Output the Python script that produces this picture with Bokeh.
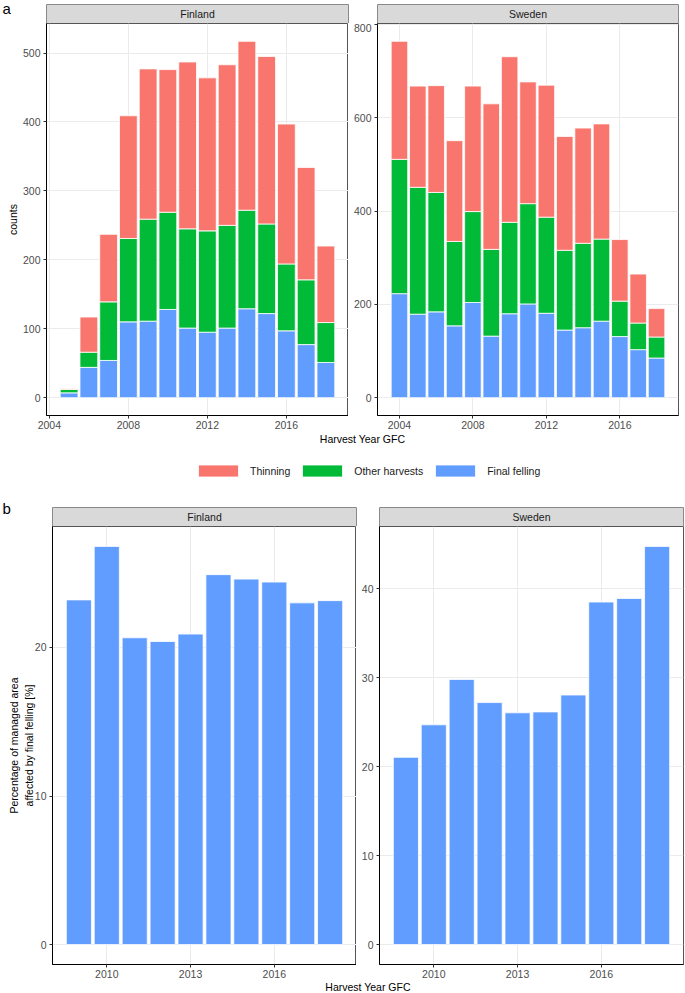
from bokeh.plotting import figure
from bokeh.layouts import column, row
from bokeh.models import ColumnDataSource, Range1d, FixedTicker, Legend, LegendItem
from bokeh.core.properties import value
from bokeh.embed import file_html
from bokeh.resources import INLINE

# ---------------- data ----------------
years_fi = [2005, 2006, 2007, 2008, 2009, 2010, 2011, 2012, 2013, 2014, 2015, 2016, 2017, 2018]
final_fi = [7, 44, 54, 110, 111, 128, 101, 95, 101, 129, 122, 97, 77, 51]
other_fi = [5, 22, 85, 121, 148, 141, 144, 147, 149, 143, 130, 97, 94, 58]
thin_fi = [1, 51, 98, 178, 218, 207, 242, 222, 233, 245, 243, 203, 163, 111]

years_se = [2004, 2005, 2006, 2007, 2008, 2009, 2010, 2011, 2012, 2013, 2014, 2015, 2016, 2017, 2018]
final_se = [223, 179, 184, 154, 204, 132, 180, 201, 181, 145, 150, 164, 131, 103, 85]
other_se = [288, 272, 256, 181, 195, 186, 196, 215, 206, 171, 181, 176, 76, 57, 45]
thin_se = [253, 217, 229, 216, 269, 312, 355, 261, 283, 244, 247, 247, 132, 105, 61]

years_b = [2009, 2010, 2011, 2012, 2013, 2014, 2015, 2016, 2017, 2018]
pct_fi = [23.2, 26.8, 20.65, 20.4, 20.9, 24.9, 24.6, 24.4, 23.0, 23.15]
pct_se = [21.05, 24.7, 29.8, 27.2, 26.05, 26.15, 28.05, 38.5, 38.9, 44.75]

categories = ["Thinning", "Other harvests", "Final felling"]
ticks_x_a = [2004, 2008, 2012, 2016]
ticks_x_b = [2010, 2013, 2016]
ticks_y_fi_a = [0, 100, 200, 300, 400, 500]
ticks_y_se_a = [0, 200, 400, 600, 800]
ticks_y_fi_b = [0, 10, 20]
ticks_y_se_b = [0, 10, 20, 30, 40]

# ---------------- style ----------------
FONT = "Liberation Sans"
C_THIN, C_OTHER, C_FINAL = "#F8766D", "#00BA38", "#619CFF"
COLORS = {"Thinning": C_THIN, "Other harvests": C_OTHER, "Final felling": C_FINAL}
FS = "10.5px"

# ---------------- layout constants (page px) ----------------
PX0 = 0
PW = 685
A_FI_L, A_FI_W, A_FI_R = 46, 302, 0
A_SE_L, A_SE_W, A_SE_R = 29, 301, 7
B_FI_L, B_FI_W, B_FI_R = 52, 304, 0
B_SE_L, B_SE_W, B_SE_R = 23, 304, 2
TOP_H = 23
A_FRAME_H, A_BOT = 392, 18
MID_H = 93
B_FRAME_H, B_BOT = 438, 17
BOT_H = 12

y_top0 = 0
y_a0 = y_top0 + TOP_H
y_mid0 = y_a0 + A_FRAME_H + A_BOT
y_b0 = y_mid0 + MID_H
y_bot0 = y_b0 + B_FRAME_H + B_BOT

fa_x0 = PX0 + A_FI_L
fa_x1 = fa_x0 + A_FI_W
fs_x0 = PX0 + A_FI_L + A_FI_W + A_FI_R + A_SE_L
fs_x1 = fs_x0 + A_SE_W
fb_x0 = PX0 + B_FI_L
fb_x1 = fb_x0 + B_FI_W
fsb_x0 = PX0 + B_FI_L + B_FI_W + B_FI_R + B_SE_L
fsb_x1 = fsb_x0 + B_SE_W


def x_range_for(years):
    lo, hi = min(years) - 0.45, max(years) + 0.45
    pad = 0.05 * (hi - lo)
    return Range1d(lo - pad, hi + pad)


def y_range_for(top):
    return Range1d(-0.05 * top, 1.05 * top)


def panel(width, height, mbl, mbr, mbb, xr, yr, xticks, yticks, ylabel=None, label_standoff=3):
    p = figure(width=width, height=height, x_range=xr, y_range=yr,
               min_border_left=mbl, min_border_right=mbr, min_border_top=0,
               min_border_bottom=mbb, toolbar_location=None, output_backend="svg")
    p.outline_line_color = "#555555"
    p.outline_line_width = 1
    p.background_fill_color = "white"
    p.border_fill_color = "white"
    p.xaxis.ticker = FixedTicker(ticks=xticks)
    p.yaxis.ticker = FixedTicker(ticks=yticks)
    for ax in (p.xaxis, p.yaxis):
        ax.axis_line_color = "black"
        ax.axis_line_width = 1
        ax.major_tick_line_color = "#333333"
        ax.major_tick_out = 3
        ax.major_tick_in = 0
        ax.minor_tick_line_color = None
        ax.major_label_text_font = FONT
        ax.major_label_text_font_size = FS
        ax.major_label_text_color = "#4D4D4D"
        ax.major_label_standoff = 2
    p.yaxis.major_label_standoff = 3
    p.grid.grid_line_color = "#EBEBEB"
    p.grid.grid_line_width = 1
    if ylabel:
        p.yaxis.axis_label = ylabel
        p.yaxis.axis_label_text_font = FONT
        p.yaxis.axis_label_text_font_size = FS
        p.yaxis.axis_label_text_font_style = "normal"
        p.yaxis.axis_label_text_color = "black"
        p.yaxis.axis_label_standoff = label_standoff
    return p


def stacked(p, years, final, other, thin):
    src = ColumnDataSource(dict(year=years, final=final, other=other, thin=thin))
    return p.vbar_stack(["final", "other", "thin"], x="year", width=0.9, source=src,
                        fill_color=[C_FINAL, C_OTHER, C_THIN], line_color="white", line_width=0.8)


# ---------------- panel a ----------------
tot_fi = [a + b + c for a, b, c in zip(final_fi, other_fi, thin_fi)]
tot_se = [a + b + c for a, b, c in zip(final_se, other_se, thin_se)]

fa = panel(A_FI_L + A_FI_W + A_FI_R, A_FRAME_H + A_BOT, A_FI_L, A_FI_R, A_BOT,
           x_range_for(years_fi), y_range_for(max(tot_fi)), ticks_x_a, ticks_y_fi_a, "counts", 1)
stacked(fa, years_fi, final_fi, other_fi, thin_fi)

fs = panel(A_SE_L + A_SE_W + A_SE_R, A_FRAME_H + A_BOT, A_SE_L, A_SE_R, A_BOT,
           x_range_for(years_se), y_range_for(max(tot_se)), ticks_x_a, ticks_y_se_a)
stacked(fs, years_se, final_se, other_se, thin_se)

# ---------------- panel b ----------------
fb = panel(B_FI_L + B_FI_W + B_FI_R, B_FRAME_H + B_BOT, B_FI_L, B_FI_R, B_BOT,
           x_range_for(years_b), y_range_for(max(pct_fi)), ticks_x_b, ticks_y_fi_b,
           "Percentage of managed area\naffected by final felling [%]", -3)
fb.vbar(x="year", top="pct", width=0.9, source=ColumnDataSource(dict(year=years_b, pct=pct_fi)),
        fill_color=C_FINAL, line_color="white", line_width=0.8)

fsb = panel(B_SE_L + B_SE_W + B_SE_R, B_FRAME_H + B_BOT, B_SE_L, B_SE_R, B_BOT,
            x_range_for(years_b), y_range_for(max(pct_se)), ticks_x_b, ticks_y_se_b)
fsb.vbar(x="year", top="pct", width=0.9, source=ColumnDataSource(dict(year=years_b, pct=pct_se)),
         fill_color=C_FINAL, line_color="white", line_width=0.8)


# ---------------- decoration strips (page-pixel coordinates) ----------------
def deco(height, y0):
    d = figure(width=PW, height=height, x_range=Range1d(PX0, PX0 + PW),
               y_range=Range1d(y0 + height, y0), x_axis_location=None, y_axis_location=None,
               min_border=0, toolbar_location=None, output_backend="svg")
    d.grid.visible = False
    d.outline_line_color = None
    d.background_fill_color = "white"
    d.border_fill_color = "white"
    return d


def strips(d, lefts, rights, top, bottom, labels):
    d.quad(left=lefts, right=rights, top=[top] * len(lefts), bottom=[bottom] * len(lefts),
           fill_color="#D9D9D9", line_color="#8A8A8A", line_width=1)
    d.text(x=[(l + r) / 2 for l, r in zip(lefts, rights)], y=[(top + bottom) / 2] * len(lefts),
           text=labels, text_font=value(FONT), text_font_size=FS, text_color="#1A1A1A",
           text_align="center", text_baseline="middle")


top = deco(TOP_H, y_top0)
strips(top, [fa_x0, fs_x0], [fa_x1, fs_x1], y_top0 + 4, y_a0, ["Finland", "Sweden"])
top.text(x=[PX0 + 2], y=[y_top0 + 8], text=["a"], text_font=value(FONT), text_font_size="15px",
         text_color="black", text_align="left", text_baseline="middle")

mid = deco(MID_H, y_mid0)
mid.text(x=[(fa_x0 + fs_x1) / 2], y=[y_mid0 + 5], text=["Harvest Year GFC"], text_font=value(FONT),
         text_font_size=FS, text_color="black", text_align="center", text_baseline="middle")
# legend swatches: zero-height proxies placed off the visible frame
rs = []
for cat in categories:
    rs.append(mid.vbar(x=[PX0 - 50], top=[y_mid0], bottom=[y_mid0], width=1,
                       fill_color=COLORS[cat], line_color="white", line_width=0.8))
legend = Legend(items=[LegendItem(label=c, renderers=[r]) for c, r in zip(categories, rs)],
                orientation="horizontal", location=(193, 48), padding=0, spacing=7,
                glyph_width=50, glyph_height=15, label_standoff=7, border_line_color=None,
                background_fill_alpha=0, label_text_font=FONT, label_text_font_size=FS,
                label_text_color="#1A1A1A", margin=0)
mid.add_layout(legend)
strips(mid, [fb_x0, fsb_x0], [fb_x1, fsb_x1], y_b0 - 19, y_b0, ["Finland", "Sweden"])
mid.text(x=[PX0 + 2], y=[y_b0 - 18], text=["b"], text_font=value(FONT), text_font_size="15px",
         text_color="black", text_align="left", text_baseline="middle")

bot = deco(BOT_H, y_bot0)
bot.text(x=[(fb_x0 + fsb_x1) / 2], y=[y_bot0 + 5], text=["Harvest Year GFC"], text_font=value(FONT),
         text_font_size=FS, text_color="black", text_align="center", text_baseline="middle")

layout = column(top, row(fa, fs), mid, row(fb, fsb), bot)

open("out.html", "w").write(file_html(layout, INLINE))
